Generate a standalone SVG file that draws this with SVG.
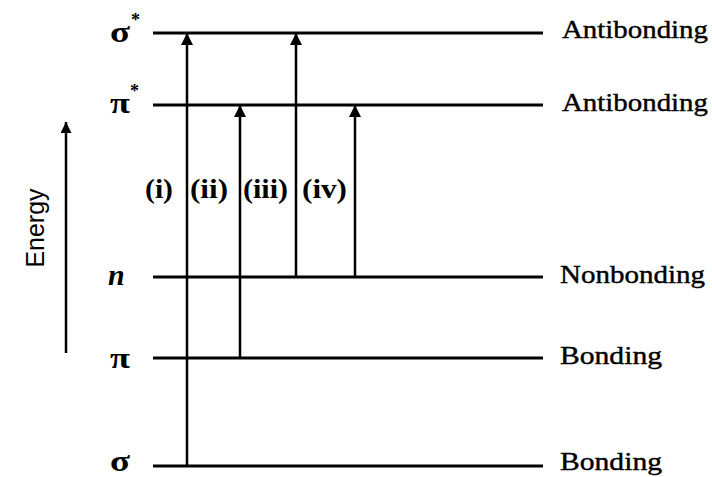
<svg xmlns="http://www.w3.org/2000/svg" width="712" height="477" viewBox="0 0 712 477">
<style>
.lvl{stroke:#000;stroke-width:3;fill:none}
.tr{stroke:#000;stroke-width:2.5;fill:none}
.sym{font-family:"Liberation Serif",serif;font-size:30px;font-weight:bold;fill:#000}
.star{font-family:"Liberation Serif",serif;font-size:18px;font-weight:bold;fill:#000}
.lab{font-family:"Liberation Serif",serif;font-size:25px;fill:#000;stroke:#000;stroke-width:0.4}
.rn{font-family:"Liberation Serif",serif;font-size:27px;font-weight:bold;fill:#000}
.en{font-family:"Liberation Sans",Arial,sans-serif;font-size:25px;fill:#000}
</style>
<defs>
<marker id="ah" viewBox="0 0 10 10" refX="10" refY="5" markerWidth="12" markerHeight="12" markerUnits="userSpaceOnUse" orient="auto">
<path d="M0,0 L10,5 L0,10 Z" fill="#000"/>
</marker>
<marker id="ah2" viewBox="0 0 10 10" refX="10" refY="5" markerWidth="11" markerHeight="11" markerUnits="userSpaceOnUse" orient="auto">
<path d="M0,0 L10,5 L0,10 Z" fill="#000"/>
</marker>
</defs>

<g id="axis">
<line x1="66" y1="353" x2="66" y2="122" class="tr" marker-end="url(#ah2)"/>
<text class="en" transform="translate(44,228) rotate(-90)" text-anchor="middle">Energy</text>
</g>

<g id="level-sigma-star">
<line x1="153" y1="33" x2="543" y2="33" class="lvl"/>
<text class="sym" x="110" y="42" textLength="20" lengthAdjust="spacingAndGlyphs">σ</text><text class="star" x="131" y="26">*</text>
<text class="lab" x="562" y="38" textLength="146" lengthAdjust="spacingAndGlyphs">Antibonding</text>
</g>
<g id="level-pi-star">
<line x1="153" y1="105" x2="543" y2="105" class="lvl"/>
<text class="sym" x="110" y="113" textLength="20" lengthAdjust="spacingAndGlyphs">π</text><text class="star" x="130" y="97">*</text>
<text class="lab" x="562" y="111" textLength="146" lengthAdjust="spacingAndGlyphs">Antibonding</text>
</g>
<g id="level-n">
<line x1="153" y1="277" x2="543" y2="277" class="lvl"/>
<text class="sym" x="108" y="285" font-style="italic">n</text>
<text class="lab" x="560" y="283" textLength="145" lengthAdjust="spacingAndGlyphs">Nonbonding</text>
</g>
<g id="level-pi">
<line x1="153" y1="358" x2="543" y2="358" class="lvl"/>
<text class="sym" x="110" y="368" textLength="20" lengthAdjust="spacingAndGlyphs">π</text>
<text class="lab" x="560" y="364" textLength="102" lengthAdjust="spacingAndGlyphs">Bonding</text>
</g>
<g id="level-sigma">
<line x1="153" y1="466" x2="543" y2="466" class="lvl"/>
<text class="sym" x="110" y="471" textLength="20" lengthAdjust="spacingAndGlyphs">σ</text>
<text class="lab" x="560" y="470" textLength="102" lengthAdjust="spacingAndGlyphs">Bonding</text>
</g>

<g id="connectors">
<line x1="187" y1="466" x2="187" y2="33" class="tr" marker-end="url(#ah)"/>
<line x1="240" y1="358" x2="240" y2="105" class="tr" marker-end="url(#ah)"/>
<line x1="296" y1="277" x2="296" y2="33" class="tr" marker-end="url(#ah)"/>
<line x1="355" y1="277" x2="355" y2="105" class="tr" marker-end="url(#ah)"/>
</g>

<g id="labels">
<text class="rn" x="145" y="198" textLength="28" lengthAdjust="spacingAndGlyphs">(i)</text>
<text class="rn" x="190" y="198" textLength="38" lengthAdjust="spacingAndGlyphs">(ii)</text>
<text class="rn" x="243" y="198" textLength="45" lengthAdjust="spacingAndGlyphs">(iii)</text>
<text class="rn" x="302" y="198" textLength="45" lengthAdjust="spacingAndGlyphs">(iv)</text>
</g>
</svg>
